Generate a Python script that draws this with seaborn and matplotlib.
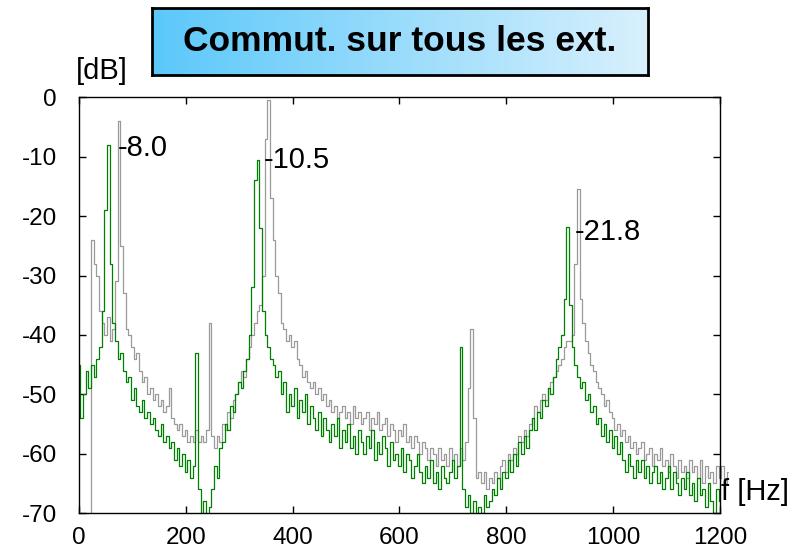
# Spectre : commutation sur tous les ext. (gris = reference, vert = commute)
import numpy as np
import pandas as pd
import matplotlib
matplotlib.use("Agg")
import matplotlib.pyplot as plt
from matplotlib.patches import Rectangle
import seaborn as sns

## Data (dB, pas de 5 Hz)
freq_green = np.arange(0, 1201, 5)
level_green = [
    -45, -54, -50, -46, -49, -45, -47, -44, -42, -36,
    -19, -8.0, -28, -38, -41, -44, -43, -46, -48, -47,
    -51, -49, -52, -53, -51, -54, -53, -55, -54, -56,
    -57, -55, -58, -57, -59, -58, -61, -59, -62, -60,
    -63, -61, -64, -62, -43, -66, -71, -68, -72, -69,
    -66, -62, -64, -59, -58, -55, -56, -52, -53, -50,
    -48, -49, -46, -44, -40, -32, -14, -10.5, -22, -36,
    -40, -42, -44, -45, -47, -46, -50, -48, -53, -50,
    -52, -49, -54, -51, -53, -50, -55, -52, -54, -56,
    -53, -57, -54, -56, -58, -55, -57, -54, -59, -56,
    -58, -55, -59, -57, -60, -56, -58, -60, -57, -59,
    -56, -61, -58, -60, -57, -59, -62, -58, -61, -60,
    -62, -59, -63, -60, -61, -64, -62, -60, -63, -65,
    -62, -64, -61, -65, -63, -66, -62, -64, -65, -63,
    -61, -64, -62, -42, -66, -69, -67, -70, -68, -71,
    -69, -70, -67, -69, -68, -66, -67, -64, -66, -63,
    -64, -61, -63, -60, -62, -58, -60, -57, -59, -56,
    -54, -56, -53, -54, -51, -52, -49, -50, -47, -44,
    -42, -40, -34, -21.8, -35, -42, -45, -47, -49, -48,
    -51, -50, -53, -52, -55, -54, -57, -55, -58, -56,
    -59, -57, -60, -58, -61, -63, -60, -62, -64, -61,
    -63, -61, -64, -62, -65, -63, -62, -65, -63, -66,
    -64, -62, -66, -63, -65, -67, -64, -66, -63, -67,
    -65, -68, -64, -67, -66, -69, -65, -68, -70, -66,
    -68,
]
freq_gray = np.arange(20, 1216, 5)
level_gray = [
    -72, -24, -28, -30, -36, -38, -40, -37, -41, -39, -31, -4, -25, -33, -39, -40,
    -42, -44, -43, -46, -48, -47, -50, -49, -51, -50,
    -52, -51, -53, -52, -49, -54, -55, -56, -55, -57,
    -56, -58, -57, -58, -56, -58, -57, -58, -56, -38,
    -57, -59, -57, -58, -55, -56, -53, -54, -51, -50,
    -48, -46, -47, -44, -42, -40, -38, -36, -35, -30,
    -7, -0.5, -17, -24, -30, -33, -38, -39, -41, -40,
    -42, -41, -44, -45, -47, -46, -48, -49, -48, -50,
    -49, -51, -50, -52, -51, -53, -52, -54, -53, -52,
    -54, -53, -55, -52, -54, -53, -55, -54, -53, -56,
    -54, -55, -53, -56, -55, -54, -57, -55, -56, -58,
    -56, -57, -55, -58, -57, -59, -57, -58, -60, -58,
    -59, -61, -59, -60, -62, -59, -61, -60, -62, -59,
    -61, -60, -62, -59, -61, -58, -49, -39, -54, -64,
    -63, -65, -63, -66, -64, -65, -63, -64, -62, -61,
    -63, -60, -61, -59, -60, -57, -58, -56, -57, -55,
    -54, -52, -53, -51, -50, -51, -49, -48, -47, -46,
    -45, -44, -42, -41, -41, -40, -28, -15.5, -34, -38,
    -41, -43, -45, -46, -48, -49, -50, -52, -51, -53,
    -54, -56, -55, -57, -56, -58, -57, -59, -58, -60,
    -59, -58, -61, -60, -59, -62, -60, -61, -59, -62,
    -61, -63, -60, -62, -64, -61, -63, -62, -64, -61,
    -63, -62, -64, -61, -65, -62, -64, -63, -65, -62,
    -64, -62, -65, -63,
]
peak_freq = [73, 346, 929]
peak_pos = [-8.6, -10.6, -22.7]
peak_labels = ["-8.0", "-10.5", "-21.8"]

green = pd.DataFrame({"f": freq_green, "dB": level_green})
gray = pd.DataFrame({"f": freq_gray, "dB": level_gray})

## Style
sns.set_style("ticks")
plt.rcParams["font.family"] = ["Liberation Sans", "DejaVu Sans"]
plt.rcParams["axes.unicode_minus"] = False
for key in ["text.color", "axes.labelcolor", "xtick.color", "ytick.color"]:
    plt.rcParams[key] = "black"
GREEN, GRAY = "#008000", "#9a9a9a"

fig = plt.figure(figsize=(8.07, 5.53), dpi=100)
ax = fig.add_axes([0.098, 0.072, 0.794, 0.752])

sns.lineplot(data=gray, x="f", y="dB", ax=ax, color=GRAY, lw=0.9,
             drawstyle="steps-mid", estimator=None, sort=False)
sns.lineplot(data=green, x="f", y="dB", ax=ax, color=GREEN, lw=0.9,
             drawstyle="steps-mid", estimator=None, sort=False)
# let the traces run a little past 1200 Hz but cut them at -70 dB
clip = Rectangle((-5, -70), 1240, 75, transform=ax.transData)
for ln in ax.lines:
    ln.set_clip_path(clip)

ax.set_xlim(0, 1200)
ax.set_ylim(-70, 0)
ax.set_xticks(range(0, 1201, 200))
ax.set_yticks(range(-70, 1, 10))
ax.set_xlabel("")
ax.set_ylabel("")
for s in ax.spines.values():
    s.set_visible(True)
    s.set_linewidth(1.0)
    s.set_color("black")
ax.tick_params(direction="in", length=5, width=1, top=True, right=True,
               labelsize=17.5, colors="black")
ax.tick_params(axis="y", pad=16)
ax.tick_params(axis="x", pad=10)

for fx, fy, lab in zip(peak_freq, peak_pos, peak_labels):
    ax.text(fx, fy, lab, ha="left", va="center", fontsize=21)
ax.text(-6, 4.5, "[dB]", ha="left", va="center", fontsize=21, clip_on=False)
ax.text(1202, -66.5, "f [Hz]", ha="left", va="center", fontsize=21, clip_on=False)

# title box with blue gradient
bx = fig.add_axes([152 / 807, 1 - 75 / 553, 496 / 807, 67 / 553])
grad = np.linspace(0, 1, 256).reshape(1, -1)
cmap = matplotlib.colors.LinearSegmentedColormap.from_list("tb", ["#5bc8fa", "#d8f0fd"])
bx.imshow(grad, aspect="auto", cmap=cmap, extent=(0, 1, 0, 1))
bx.set_xticks([])
bx.set_yticks([])
for s in bx.spines.values():
    s.set_linewidth(2)
    s.set_color("black")
bx.text(0.5, 0.5, "Commut. sur tous les ext.", ha="center", va="center",
        fontsize=25.5, fontweight="bold", transform=bx.transAxes)

fig.savefig("out.png", dpi=100)
